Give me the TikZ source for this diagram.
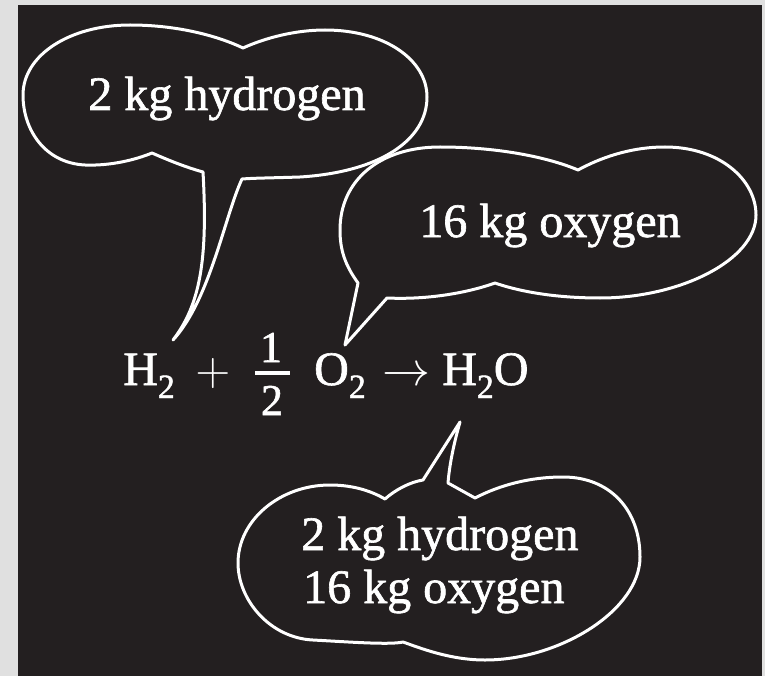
\documentclass[tikz,border=0pt]{standalone}
\usepackage{fix-cm}
\usepackage{fontspec}
\setmainfont{Liberation Serif}[BoldFont=Liberation Serif,BoldFeatures={FakeBold=1.3}]
\definecolor{bgdark}{HTML}{231F20}
\definecolor{bggray}{HTML}{E0E0E0}
\newcommand\chemsub[1]{\raisebox{-13pt}{\fontsize{34}{34}\selectfont #1}}
\begin{document}
\begin{tikzpicture}[x=1pt,y=-1pt,
  bubble/.style={draw=white,line width=3pt,line join=round},
  txt/.style={text=white,font=\fontsize{48}{52}\selectfont\bfseries,inner sep=0pt},
  fracnum/.style={txt,font=\fontsize{44}{44}\selectfont\bfseries}]
\useasboundingbox (0,0) rectangle (765,676);
\fill[bggray] (0,0) rectangle (765,676);
\fill[bgdark] (18,5) rectangle (762,676);

% bubble 1
\draw[bubble] (173,340) .. controls (200,305) and (208,260) .. (203,172)
  .. controls (185,167) and (168,160) .. (152,153)
  .. controls (135,160) and (110,166) .. (85,165)
  .. controls (45,163) and (23,130) .. (23,95)
  .. controls (23,55) and (70,25) .. (130,25)
  .. controls (180,25) and (220,37) .. (243,48)
  .. controls (265,38) and (295,30) .. (325,30)
  .. controls (385,30) and (427,60) .. (427,97)
  .. controls (427,140) and (380,172) .. (300,177)
  .. controls (270,178) and (255,178) .. (242,179)
  .. controls (225,215) and (210,300) .. cycle;

% bubble 2
\draw[bubble] (345,345) -- (358,283)
  .. controls (345,265) and (340,250) .. (340,230)
  .. controls (340,180) and (380,147) .. (440,147)
  .. controls (500,147) and (550,158) .. (578,170)
  .. controls (600,158) and (630,147) .. (665,147)
  .. controls (720,147) and (756,180) .. (756,215)
  .. controls (756,260) and (680,298) .. (600,298)
  .. controls (550,298) and (515,290) .. (495,283)
  .. controls (470,292) and (430,300) .. (387,298)
  -- cycle;

% bubble 3
\draw[bubble] (460,422) .. controls (452,450) and (449,470) .. (448,483)
  -- (475,498)
  .. controls (500,485) and (530,477) .. (563,477)
  .. controls (610,477) and (640,510) .. (640,557)
  .. controls (640,610) and (560,660) .. (485,660)
  .. controls (450,660) and (420,648) .. (403,642)
  .. controls (390,645) and (350,642) .. (313,640)
  .. controls (270,638) and (238,600) .. (238,563)
  .. controls (238,520) and (280,485) .. (330,485)
  .. controls (355,485) and (373,492) .. (385,499)
  .. controls (395,490) and (410,482) .. (423,480)
  -- cycle;

% bubble texts
\node[txt,anchor=base] (b1) at (227,110) {2 kg hydrogen};
\node[txt,anchor=base] (b2) at (550,237) {16 kg oxygen};
\node[txt,anchor=base west] (b3a) at (301,550) {2 kg hydrogen};
\node[txt,anchor=base west] (b3b) at (303,603) {16 kg oxygen};

% equation
\node[txt,anchor=base west] (h2) at (123,385) {H\chemsub{2}};
\node[txt,anchor=base] (plus) at (213,385) {$+$};
\node[fracnum,anchor=base] (one) at (271,362) {1};
\node[fracnum,anchor=base] (two) at (272,415) {2};
\draw[white,line width=3.5pt] (255,373) -- (290,373);
\node[txt,anchor=base west] (o2) at (314,385) {O\chemsub{2}};
\node[txt,anchor=base] (arr) at (406,385) {$\rightarrow$};
\node[txt,anchor=base west] (h2o) at (442,385) {H\chemsub{2}O};
\end{tikzpicture}
\end{document}
